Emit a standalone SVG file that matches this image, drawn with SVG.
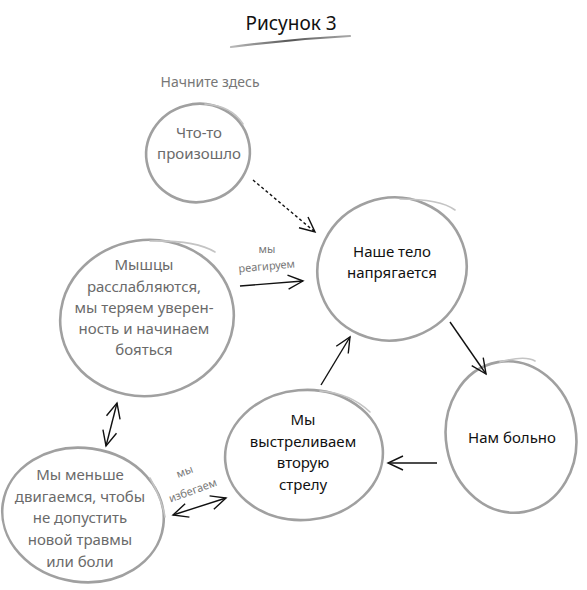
<svg xmlns="http://www.w3.org/2000/svg" width="587" height="590" viewBox="0 0 587 590">
<defs>
<marker id="ah" markerWidth="20" markerHeight="20" refX="16" refY="8" orient="auto" markerUnits="userSpaceOnUse">
<polyline points="1,1 16,8 1,15" fill="none" stroke="#111" stroke-width="1.4"/>
</marker>
<marker id="ahs" markerWidth="20" markerHeight="20" refX="4" refY="8" orient="auto" markerUnits="userSpaceOnUse">
<polyline points="19,1 4,8 19,15" fill="none" stroke="#111" stroke-width="1.4"/>
</marker>
<linearGradient id="ul" x1="0" y1="0" x2="1" y2="0">
<stop offset="0" stop-color="#bbb"/>
<stop offset="0.5" stop-color="#555"/>
<stop offset="1" stop-color="#aaa"/>
</linearGradient>
</defs>
<style>
.c{fill:none;stroke:#a0a0a0;stroke-width:2.6;stroke-linecap:round}
.t{fill:none;stroke:#c4c4c4;stroke-width:1.6;stroke-linecap:round}
.g{font-family:"Noto Sans","Liberation Sans",sans-serif;font-size:15px;fill:#6a6a6a;text-anchor:middle}
.k{font-family:"Noto Sans","Liberation Sans",sans-serif;font-size:15px;fill:#111;text-anchor:middle}
.s{font-family:"Noto Sans","Liberation Sans",sans-serif;font-size:11px;fill:#777;text-anchor:middle}
.a{fill:none;stroke:#111;stroke-width:1.4}
</style>
<rect width="587" height="590" fill="#fff"/>
<text x="291" y="30" font-family="Noto Sans, Liberation Sans, sans-serif" font-size="19" fill="#111" text-anchor="middle">Рисунок 3</text>
<path d="M231,47 Q290,39 350,36" fill="none" stroke="url(#ul)" stroke-width="2.2" stroke-linecap="round"/>
<text x="210" y="87" font-family="Noto Sans, Liberation Sans, sans-serif" font-size="14" fill="#777" text-anchor="middle">Начните здесь</text>

<g id="n1">
<ellipse class="c" cx="198" cy="153" rx="52" ry="49" transform="rotate(-15 198 153)"/>
<path class="t" d="M205,104 Q232,106 243,124"/>
<text class="g" x="199" y="138">Что-то</text>
<text class="g" x="199" y="159">произошло</text>
</g>

<g id="n2">
<ellipse class="c" cx="147" cy="318" rx="87" ry="78" transform="rotate(-8 147 318)"/>
<path class="t" d="M150,241 Q195,240 215,252"/>
<text class="g" x="144" y="270">Мышцы</text>
<text class="g" x="144" y="292">расслабляются,</text>
<text class="g" x="144" y="313">мы теряем уверен-</text>
<text class="g" x="144" y="334">ность и начинаем</text>
<text class="g" x="144" y="355">бояться</text>
</g>

<g id="n3">
<ellipse class="c" cx="392" cy="269" rx="75" ry="71" transform="rotate(-20 392 269)"/>
<path class="t" d="M400,199 Q440,199 455,210"/>
<text class="k" x="392" y="257">Наше тело</text>
<text class="k" x="392" y="278">напрягается</text>
</g>

<g id="n4">
<ellipse class="c" cx="511" cy="437" rx="65" ry="76" transform="rotate(-10 511 437)"/>
<path class="t" d="M500,362 Q525,355 535,361"/>
<text class="k" x="512" y="443">Нам больно</text>
</g>

<g id="n5">
<ellipse class="c" cx="304" cy="455" rx="79" ry="65" transform="rotate(-5 304 455)"/>
<path class="t" d="M320,391 Q350,393 370,412"/>
<text class="k" x="303" y="425">Мы</text>
<text class="k" x="303" y="447">выстреливаем</text>
<text class="k" x="303" y="468">вторую</text>
<text class="k" x="303" y="490">стрелу</text>
</g>

<g id="n6">
<ellipse class="c" cx="83" cy="515" rx="81" ry="67" transform="rotate(8 83 515)"/>
<path class="t" d="M150,478 Q162,500 165,517"/>
<text class="g" x="80" y="480">Мы меньше</text>
<text class="g" x="80" y="502">двигаемся, чтобы</text>
<text class="g" x="80" y="523">не допустить</text>
<text class="g" x="80" y="545">новой травмы</text>
<text class="g" x="80" y="567">или боли</text>
</g>

<g id="connectors">
<line class="a" x1="253" y1="180" x2="315" y2="232" stroke-dasharray="3,2.5" marker-end="url(#ah)"/>
<line class="a" x1="240" y1="286" x2="303" y2="281" marker-end="url(#ah)"/>
<line class="a" x1="450" y1="322" x2="486" y2="374" marker-end="url(#ah)"/>
<line class="a" x1="437" y1="463" x2="388" y2="463" marker-end="url(#ah)"/>
<line class="a" x1="321" y1="385" x2="350" y2="337" marker-end="url(#ah)"/>
<line class="a" x1="117" y1="403" x2="106" y2="446" marker-start="url(#ahs)" marker-end="url(#ah)"/>
<line class="a" x1="173" y1="515" x2="226" y2="498" marker-start="url(#ahs)" marker-end="url(#ah)"/>
<text class="s" x="267" y="253">мы</text>
<text class="s" x="267" y="270" transform="rotate(-5 267 270)">реагируем</text>
<text class="s" x="186" y="475" transform="rotate(-20 186 475)">мы</text>
<text class="s" x="194" y="494" transform="rotate(-20 194 494)">избегаем</text>
</g>
</svg>
